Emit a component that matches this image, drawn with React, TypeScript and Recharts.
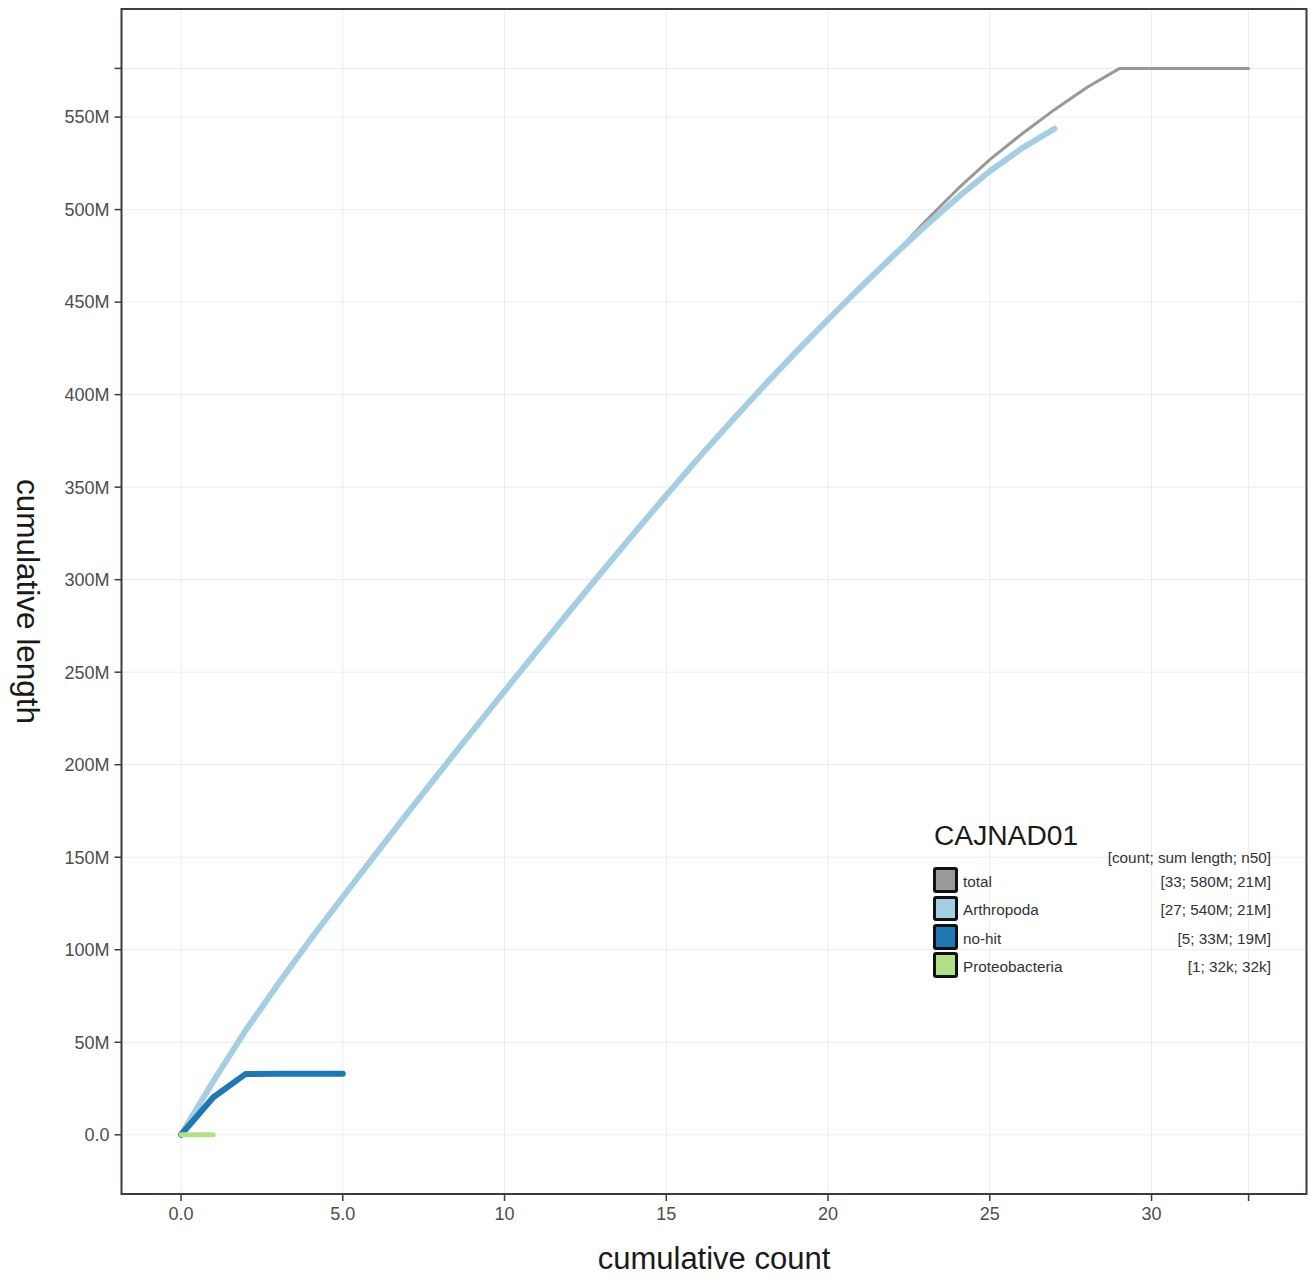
import {
  CartesianGrid,
  Legend,
  Line,
  LineChart,
  ReferenceArea,
  XAxis,
  YAxis,
} from "recharts";

// cumulative length (Mb) at each cumulative count (index = count)
const totalLength = [
  0, 29, 56.5, 81.5, 105.5, 128.5, 151.3, 173.8, 196, 218, 239.8, 261.4, 282.8,
  304, 325, 345.6, 365.8, 385.4, 404.4, 422.8, 440.6, 458, 474.8, 493.5, 511,
  527, 541, 554, 566, 576.2, 576.25, 576.28, 576.3, 576.3,
];
const arthropodaLength = [
  0, 29, 56.5, 81.5, 105.5, 128.5, 151.3, 173.8, 196, 218, 239.8, 261.4, 282.8,
  304, 325, 345.6, 365.8, 385.4, 404.4, 422.8, 440.6, 458, 474.8, 491, 506.4,
  520.7, 533.2, 543.7,
];
const noHitLength = [0, 20.3, 32.9, 32.95, 33.0, 33.0];
const proteobacteriaLength = [0, 0.032];

const seriesNames = ["total", "Arthropoda", "no-hit", "Proteobacteria"];
const seriesStats = [
  "[33; 580M; 21M]",
  "[27; 540M; 21M]",
  "[5; 33M; 19M]",
  "[1; 32k; 32k]",
];
const seriesColors = ["#999999", "#a6cee3", "#1f78b4", "#b2df8a"];

const assemblyName = "CAJNAD01";
const legendHeader = "[count; sum length; n50]";

const xTicks = [0, 5, 10, 15, 20, 25, 30, 33];
const yTicksM = [0, 50, 100, 150, 200, 250, 300, 350, 400, 450, 500, 550];

const toPoints = (vals: number[]) =>
  vals.map((v, i) => ({ count: i, length: v * 1e6 }));

const maxTotal = Math.max(...totalLength) * 1e6;
const yTicks = [...yTicksM.map((v) => v * 1e6), maxTotal];

const xDomain: [number, number] = [-1.84, 34.79];
const yDomain: [number, number] = [-32.0e6, 608.4e6];

const FONT = '"Liberation Sans", Arial, Helvetica, sans-serif';
const AXIS = "#3b3b4b";

const fmtX = (v: number) => {
  if (v === 33) return "";
  return v < 10 ? v.toFixed(1) : String(v);
};
const fmtY = (v: number) => {
  if (v === 0) return "0.0";
  if (v === maxTotal) return "";
  return `${v / 1e6}M`;
};

// top of a line-height:1 box so the text baseline lands at `baseline`
const topFor = (baseline: number, fs: number) => baseline - 0.8465 * fs;

const LX = 925;
const LY = 810;
const LW = 360;

function LegendBox() {
  const small = 15.3;
  return (
    <div style={{ position: "relative", width: LW, height: 180, fontFamily: FONT }}>
      <div
        style={{
          position: "absolute",
          left: 934 - LX,
          top: topFor(845, 28.2) - LY,
          fontSize: 28.2,
          lineHeight: "28.2px",
          color: "#1a1a1a",
          whiteSpace: "nowrap",
        }}
      >
        {assemblyName}
      </div>
      <div
        style={{
          position: "absolute",
          right: LX + LW - 1271,
          top: topFor(863, small) - LY,
          fontSize: small,
          lineHeight: `${small}px`,
          color: "#333",
          whiteSpace: "nowrap",
        }}
      >
        {legendHeader}
      </div>
      {seriesNames.map((name, i) => {
        const cy = 880 + 28.4 * i;
        const base = 886.7 + 28.4 * i;
        return (
          <div key={name}>
            <div
              style={{
                position: "absolute",
                left: 932.5 - LX,
                top: cy - 12.75 - LY,
                width: 25.5,
                height: 25.5,
                boxSizing: "border-box",
                border: "3px solid #111",
                borderRadius: 3,
                background: seriesColors[i],
              }}
            />
            <div
              style={{
                position: "absolute",
                left: 963 - LX,
                top: topFor(base, small) - LY,
                fontSize: small,
                lineHeight: `${small}px`,
                color: "#333",
                whiteSpace: "nowrap",
              }}
            >
              {name}
            </div>
            <div
              style={{
                position: "absolute",
                right: LX + LW - 1271,
                top: topFor(base, small) - LY,
                fontSize: small,
                lineHeight: `${small}px`,
                color: "#333",
                whiteSpace: "nowrap",
              }}
            >
              {seriesStats[i]}
            </div>
          </div>
        );
      })}
    </div>
  );
}

export default function App() {
  const tickStyle = { fill: "#4d4d4d", fontSize: 18, fontFamily: FONT };
  return (
    <div
      style={{
        position: "absolute",
        left: 0,
        top: 0,
        width: 1310,
        height: 1278,
        background: "#fff",
        fontFamily: FONT,
      }}
    >
      <LineChart
        width={1310}
        height={1278}
        margin={{ top: 9, right: 3.5, bottom: 0, left: 0 }}
      >
        <CartesianGrid stroke="#ededed" strokeWidth={1} />
        <XAxis
          type="number"
          dataKey="count"
          domain={xDomain}
          allowDataOverflow
          ticks={xTicks}
          interval={0}
          tickFormatter={fmtX}
          height={84}
          axisLine={false}
          tickSize={7}
          tickMargin={6}
          tickLine={{ stroke: AXIS, strokeWidth: 1.5 }}
          tick={tickStyle}
          label={{
            content: () => (
              <text
                x={714}
                y={1269}
                textAnchor="middle"
                fontSize={31}
                fontFamily={FONT}
                fill="#1a1a1a"
              >
                cumulative count
              </text>
            ),
          }}
        />
        <YAxis
          type="number"
          domain={yDomain}
          allowDataOverflow
          ticks={yTicks}
          interval={0}
          tickFormatter={fmtY}
          width={121.5}
          axisLine={false}
          tickSize={7}
          tickMargin={5}
          tickLine={{ stroke: AXIS, strokeWidth: 1.5 }}
          tick={tickStyle}
          label={{
            content: () => (
              <text
                x={17}
                y={601.5}
                transform="rotate(90 17 601.5)"
                textAnchor="middle"
                fontSize={31.5}
                fontFamily={FONT}
                fill="#1a1a1a"
              >
                cumulative length
              </text>
            ),
          }}
        />
        <Line
          data={toPoints(totalLength)}
          dataKey="length"
          type="linear"
          stroke={seriesColors[0]}
          strokeWidth={3}
          strokeLinecap="round"
          strokeLinejoin="round"
          dot={false}
          activeDot={false}
          isAnimationActive={false}
        />
        <Line
          data={toPoints(arthropodaLength)}
          dataKey="length"
          type="linear"
          stroke={seriesColors[1]}
          strokeWidth={6}
          strokeLinecap="round"
          strokeLinejoin="round"
          dot={false}
          activeDot={false}
          isAnimationActive={false}
        />
        <Line
          data={toPoints(noHitLength)}
          dataKey="length"
          type="linear"
          stroke={seriesColors[2]}
          strokeWidth={6}
          strokeLinecap="round"
          strokeLinejoin="round"
          dot={false}
          activeDot={false}
          isAnimationActive={false}
        />
        <Line
          data={toPoints(proteobacteriaLength)}
          dataKey="length"
          type="linear"
          stroke={seriesColors[3]}
          strokeWidth={5}
          strokeLinecap="round"
          dot={false}
          activeDot={false}
          isAnimationActive={false}
        />
        <ReferenceArea
          x1={xDomain[0]}
          x2={xDomain[1]}
          y1={yDomain[0]}
          y2={yDomain[1]}
          fill="none"
          stroke={AXIS}
          strokeWidth={2}
          ifOverflow="visible"
        />
        <Legend
          layout="horizontal"
          verticalAlign="middle"
          align="center"
          content={LegendBox}
          wrapperStyle={{ left: LX, top: LY, width: LW, height: 180 }}
        />
      </LineChart>
    </div>
  );
}
